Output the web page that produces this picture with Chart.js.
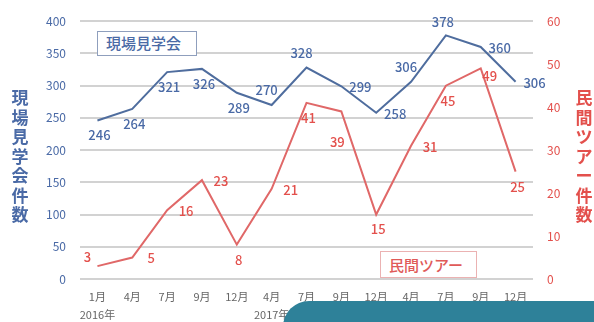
<!DOCTYPE html>
<html>
<head>
<meta charset="utf-8">
<script src="https://cdn.jsdelivr.net/npm/chart.js@4/dist/chart.umd.min.js"></script>
<style>
  html, body { margin: 0; padding: 0; background: #fff; }
  #wrap { position: relative; width: 594px; height: 322px; overflow: hidden; }
  .legend-box {
    position: absolute; background: #fff; font-family: "Noto Sans CJK JP", sans-serif;
    font-size: 15px; font-weight: 500; line-height: 22px; padding: 0 8px; box-sizing: border-box;
  }
  #lg-blue { left: 97px; top: 31px; width: 100px; height: 25px; border: 1px solid #8f9fbd; color: #4a6aa6; }
  #lg-red { left: 380px; top: 251px; width: 97px; height: 27px; border: 1px solid #ebb2b2; color: #e05a58; line-height: 25px; }
  #overlay {
    position: absolute; left: 283px; top: 301px; width: 340px; height: 60px;
    background: #2e8199; border-top-left-radius: 26px;
  }
</style>
</head>
<body>
<div id="wrap">
  <canvas id="ch" width="594" height="322"></canvas>
  <div class="legend-box" id="lg-blue">現場見学会</div>
  <div class="legend-box" id="lg-red">民間ツアー</div>
  <div id="overlay"></div>
</div>
<script>
// categories (month, with year under the first month of each year)
const months = [
  ["1月", "2016年"], "4月", "7月", "9月", "12月",
  ["4月", "2017年"], "7月", "9月", "12月",
  ["4月", "2018年"], "7月", "9月", "12月"
];
// 現場見学会件数 (left axis)
const siteTours = [246, 264, 321, 326, 289, 270, 328, 299, 258, 306, 378, 360, 306];
// 民間ツアー件数 (right axis)
const privateTours = [3, 5, 16, 23, 8, 21, 41, 39, 15, 31, 45, 49, 25];

// where each value label sits relative to its point
const siteLabelPos = ["b", "b", "b", "b", "b", "al", "al", "r", "r", "al", "a", "r", "r"];
const privateLabelPos = ["la", "r", "r", "r", "b", "r", "b", "bb", "b", "r", "b", "br", "b"];

const BLUE = "#4a6aa6";
const BLUE_LINE = "#4f6d9e";
const RED = "#e3504c";
const RED_LINE = "#e06868";
const FONT = "'Noto Sans CJK JP', sans-serif";

const OFFS = {
  b: [2, 15], bb: [-4, 31], a: [-3, -13], al: [-5, -15], r: [19, 1], l: [-14, 0],
  la: [-10, -9], br: [9, 8]
};

const valueLabels = {
  id: "valueLabels",
  afterDatasetsDraw(chart) {
    const ctx = chart.ctx;
    ctx.save();
    ctx.font = "500 13px " + FONT;
    ctx.textAlign = "center";
    ctx.textBaseline = "middle";
    chart.data.datasets.forEach((ds, i) => {
      const meta = chart.getDatasetMeta(i);
      meta.data.forEach((pt, j) => {
        const o = OFFS[ds.labelPos[j]];
        ctx.fillStyle = ds.labelColor;
        ctx.fillText(String(ds.data[j]), pt.x + o[0], pt.y + o[1]);
      });
    });
    ctx.restore();
  }
};

// vertical (upright) axis titles
const axisTitles = {
  id: "axisTitles",
  afterDraw(chart) {
    const ctx = chart.ctx;
    ctx.save();
    ctx.font = "bold 17px " + FONT;
    ctx.textAlign = "center";
    ctx.textBaseline = "middle";
    const draw = (text, x, color) => {
      ctx.fillStyle = color;
      [...text].forEach((c, k) => ctx.fillText(c, x, 98 + k * 19.5));
    };
    draw("現場見学会件数", 20, BLUE);
    draw("民間ツアー件数", 584, RED);
    ctx.restore();
  }
};

new Chart(document.getElementById("ch"), {
  type: "line",
  data: {
    labels: months,
    datasets: [
      {
        label: "現場見学会",
        data: siteTours,
        borderColor: BLUE_LINE,
        borderWidth: 2,
        pointRadius: 0,
        tension: 0,
        yAxisID: "y",
        labelPos: siteLabelPos,
        labelColor: BLUE
      },
      {
        label: "民間ツアー",
        data: privateTours,
        borderColor: RED_LINE,
        borderWidth: 2,
        pointRadius: 0,
        tension: 0,
        yAxisID: "y1",
        labelPos: privateLabelPos,
        labelColor: RED
      }
    ]
  },
  options: {
    responsive: false,
    animation: false,
    layout: { padding: { top: 20, left: 0, right: 0, bottom: 0 } },
    plugins: { legend: { display: false }, tooltip: { enabled: false } },
    scales: {
      x: {
        offset: true,
        grid: { display: false },
        border: { display: false },
        ticks: { color: "#666", font: { family: FONT, size: 11, lineHeight: 1.7 }, padding: 0, maxRotation: 0, autoSkip: false },
        afterFit(s) { s.height = 43; }
      },
      y: {
        position: "left",
        min: 0, max: 400,
        ticks: { stepSize: 50, color: BLUE, font: { family: FONT, size: 12 }, padding: 14 },
        grid: { color: "#d2d2d2", lineWidth: 2, drawTicks: false },
        border: { display: false },
        afterFit(s) { s.width = 80; }
      },
      y1: {
        position: "right",
        min: 0, max: 60,
        ticks: { stepSize: 10, color: RED, font: { family: FONT, size: 12 }, padding: 14 },
        grid: { drawOnChartArea: false, drawTicks: false },
        border: { display: false },
        afterFit(s) { s.width = 61; }
      }
    }
  },
  plugins: [valueLabels, axisTitles]
});
</script>
</body>
</html>
